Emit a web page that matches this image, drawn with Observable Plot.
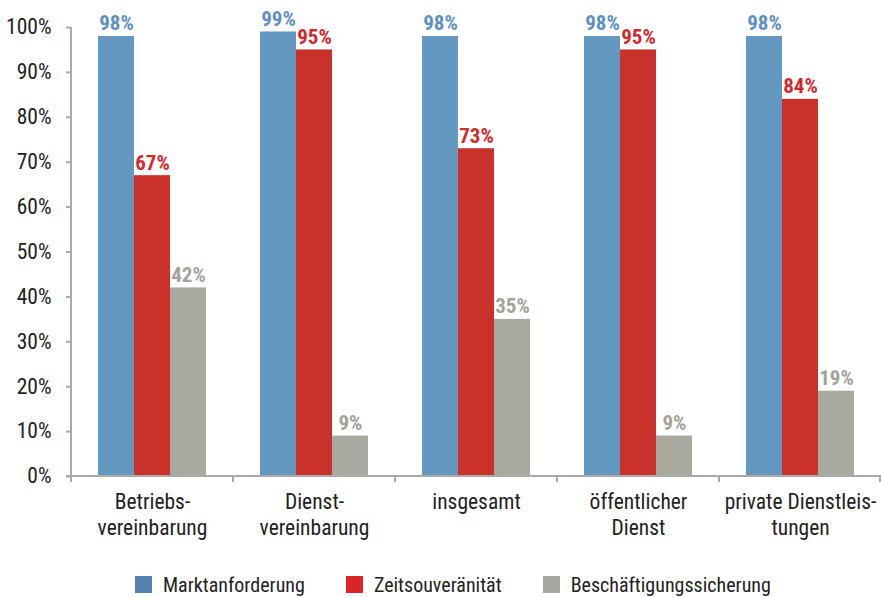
<!DOCTYPE html>
<html>
<head>
<meta charset="utf-8">
<script src="https://cdn.jsdelivr.net/npm/d3@7"></script>
<script src="https://cdn.jsdelivr.net/npm/@observablehq/plot@0.6"></script>
<style>
  html, body { margin: 0; padding: 0; background: #fff; }
  body { width: 881px; height: 597px; overflow: hidden; font-family: "Roboto Condensed", "DejaVu Sans Condensed", sans-serif; }
  #legend { display: flex; align-items: center; padding-left: 135px; padding-top: 12px; height: 25px; font-size: 20px; color: #222; font-weight: 400; }
  .item { display: flex; align-items: center; margin-right: 41px; }
  .sw { width: 17px; height: 17px; margin-right: 11px; }
</style>
</head>
<body>
<div id="chart"></div>
<div id="legend"></div>
<script>
const categories = ["Betriebs-\nvereinbarung", "Dienst-\nvereinbarung", "insgesamt", "öffentlicher\nDienst", "private Dienstleis-\ntungen"];
const series = ["Marktanforderung", "Zeitsouveränität", "Beschäftigungssicherung"];
const marktanforderung = [98, 99, 98, 98, 98];
const zeitsouveraenitaet = [67, 95, 73, 95, 84];
const beschaeftigungssicherung = [42, 9, 35, 9, 19];
const yTicks = [0, 10, 20, 30, 40, 50, 60, 70, 80, 90, 100];

const barColors = ["#6399c1", "#c9312b", "#aaa9a0"];
const labelColors = ["#5e90c0", "#cf2a2d", "#a4a39b"];
const legendColors = ["#5281ae", "#dc2327", "#a9a8a0"];

const valuesBySeries = [marktanforderung, zeitsouveraenitaet, beschaeftigungssicherung];
const data = [];
series.forEach((s, i) => categories.forEach((c, j) => data.push({category: c, series: s, value: valuesBySeries[i][j]})));

const FONT = '"Roboto Condensed", "DejaVu Sans Condensed", sans-serif';
const W = 881, H = 560;
const textMarks = series.map((s, i) => Plot.text(data.filter(d => d.series === s), {
  fx: "category", x: "series", y: "value",
  text: d => d.value + "%",
  fill: labelColors[i], fontWeight: "bold", fontSize: 21,
  lineAnchor: "bottom", dy: -6
}));

const chart = Plot.plot({
  width: W, height: H,
  marginLeft: 71, marginRight: 0, marginTop: 27, marginBottom: 84,
  style: {fontFamily: FONT, fontSize: "21px", color: "#222", background: "#fff"},
  fx: {domain: categories, paddingInner: 0, paddingOuter: 0, label: null},
  x: {domain: series, paddingInner: 0, paddingOuter: 0.75, axis: null},
  y: {domain: [0, 100], axis: null},
  color: {domain: series, range: barColors},
  marks: [
    Plot.barY(data, {fx: "category", x: "series", y: "value", fill: "series"}),
    ...textMarks,
    Plot.axisY({ticks: yTicks, tickFormat: d => d + "%", tickSize: 5, tickPadding: 15, stroke: "#aaa", strokeWidth: 2, strokeOpacity: 1, fill: "#222", fontSize: 21.5, fontWeight: 400, label: null}),
    Plot.axisFx({tickSize: 0, tickPadding: 13, fontSize: 21.5, fontWeight: 400, lineHeight: 1.25, fill: "#222", label: null, anchor: "bottom"})
  ]
});
document.getElementById("chart").appendChild(chart);

// axis lines and band-boundary ticks from the library's scales
const fx = chart.scale("fx"), y = chart.scale("y");
const svg = d3.select(chart);
const g = svg.append("g").attr("stroke", "#aaa").attr("stroke-width", 2);
const y0 = y.apply(0), y100 = y.apply(100);
const x0 = fx.apply(categories[0]);
const xEnd = fx.apply(categories[categories.length - 1]) + fx.bandwidth;
g.append("line").attr("x1", x0).attr("x2", x0).attr("y1", y0).attr("y2", y100);
g.append("line").attr("x1", x0 - 5).attr("x2", xEnd).attr("y1", y0).attr("y2", y0);
const edges = categories.map(c => fx.apply(c)).concat([xEnd - 1]);
edges.forEach(e => g.append("line").attr("x1", e).attr("x2", e).attr("y1", y0).attr("y2", y0 + 6));

// legend
const legend = d3.select("#legend");
series.forEach((s, i) => {
  const it = legend.append("div").attr("class", "item");
  it.append("div").attr("class", "sw").style("background", legendColors[i]);
  it.append("span").text(s);
});
</script>
</body>
</html>
